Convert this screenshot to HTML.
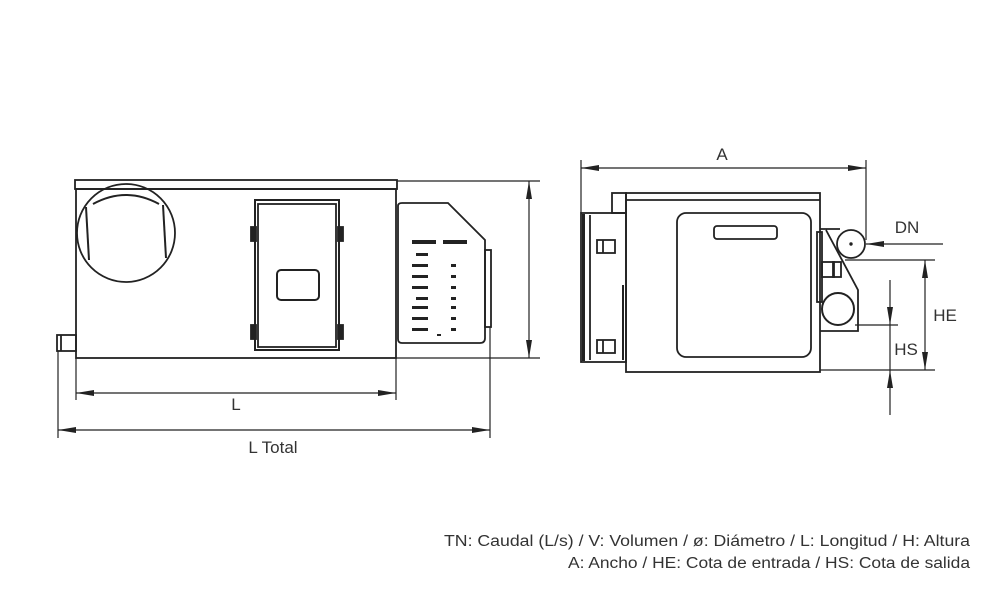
<!DOCTYPE html>
<html><head><meta charset="utf-8"><style>
html,body{margin:0;padding:0;background:#fff;width:1000px;height:600px;overflow:hidden}
text{font-family:"Liberation Sans",sans-serif}
</style></head><body>
<svg width="1000" height="600" viewBox="0 0 1000 600" xmlns="http://www.w3.org/2000/svg">
<defs>
<marker id="ar2" viewBox="0 0 18 6" refX="18" refY="3" markerWidth="18" markerHeight="6" orient="auto-start-reverse" markerUnits="userSpaceOnUse"><path d="M0,0 L18,3 L0,6 z" fill="#222"/></marker>
</defs>
<g fill="none" stroke="#222" stroke-width="1.8">
<!-- LEFT VIEW -->
<rect x="75" y="180" width="322" height="9" />
<rect x="76" y="189" width="320" height="169" />
<rect x="57" y="335" width="19" height="16" />
<line x1="61" y1="335" x2="61" y2="351"/>
<circle cx="126" cy="233" r="49"/>
<path d="M93,204 Q126,186 159,204" stroke-width="2"/>
<line x1="86" y1="207" x2="89" y2="260" stroke-width="2"/>
<line x1="163" y1="205" x2="166" y2="258" stroke-width="2"/>
<rect x="255" y="200" width="84" height="150" stroke-width="2"/>
<rect x="258" y="204" width="78" height="143"/>
<rect x="251" y="227" width="5" height="14" fill="#222"/>
<rect x="251" y="325" width="5" height="14" fill="#222"/>
<rect x="338" y="227" width="5" height="14" fill="#222"/>
<rect x="338" y="325" width="5" height="14" fill="#222"/>
<rect x="277" y="270" width="42" height="30" rx="4" stroke-width="2"/>
<path d="M398,206 Q398,203 402,203 L448,203 L485,240 L485,338 Q485,343 480,343 L402,343 Q398,343 398,339 Z"/>
<rect x="485" y="250" width="6" height="77"/>
<g stroke="none" fill="#222">
<rect x="412" y="240" width="24" height="4"/><rect x="443" y="240" width="24" height="4"/>
<rect x="416" y="253" width="12" height="3"/>
<rect x="412" y="264" width="16" height="3"/><rect x="451" y="264" width="5" height="3"/>
<rect x="412" y="275" width="16" height="3"/><rect x="451" y="275" width="5" height="3"/>
<rect x="412" y="286" width="16" height="3"/><rect x="451" y="286" width="5" height="3"/>
<rect x="416" y="297" width="12" height="3"/><rect x="451" y="297" width="5" height="3"/>
<rect x="412" y="306" width="16" height="3"/><rect x="451" y="306" width="5" height="3"/>
<rect x="412" y="317" width="16" height="3"/><rect x="451" y="317" width="5" height="3"/>
<rect x="412" y="328" width="16" height="3"/><rect x="451" y="328" width="5" height="3"/>
<rect x="437" y="334" width="4" height="2"/>
</g>
<g stroke-width="1.2">
<line x1="397" y1="181" x2="540" y2="181"/>
<line x1="396" y1="358" x2="540" y2="358"/>
<line x1="529" y1="181" x2="529" y2="358" marker-start="url(#ar2)" marker-end="url(#ar2)"/>
<line x1="76" y1="358" x2="76" y2="400"/>
<line x1="396" y1="358" x2="396" y2="400"/>
<line x1="76" y1="393" x2="396" y2="393" marker-start="url(#ar2)" marker-end="url(#ar2)"/>
<line x1="58" y1="351" x2="58" y2="438"/>
<line x1="490" y1="327" x2="490" y2="438"/>
<line x1="58" y1="430" x2="490" y2="430" marker-start="url(#ar2)" marker-end="url(#ar2)"/>
</g>
<!-- RIGHT VIEW -->
<rect x="626" y="193" width="194" height="179"/>
<line x1="626" y1="200" x2="820" y2="200"/>
<rect x="612" y="193" width="14" height="20"/>
<rect x="581" y="213" width="45" height="149"/>
<rect x="582" y="214" width="3" height="147" fill="#222" stroke="none"/>
<line x1="590" y1="215" x2="590" y2="360"/>
<rect x="597" y="240" width="18" height="13"/>
<rect x="597" y="340" width="18" height="13"/>
<line x1="603" y1="240" x2="603" y2="253"/><line x1="603" y1="340" x2="603" y2="353"/>
<line x1="623" y1="285" x2="623" y2="360" stroke-width="2"/>
<rect x="677" y="213" width="134" height="144" rx="9"/>
<rect x="714" y="226" width="63" height="13" rx="3"/>
<rect x="817" y="232" width="5" height="70"/>
<path d="M820,229 L840,229 M826,230 L858,290 L858,331 L820,331"/>
<circle cx="851" cy="244" r="14"/>
<circle cx="851" cy="244" r="0.8" fill="#222"/>
<circle cx="838" cy="309" r="16" stroke-width="2"/>
<rect x="822" y="262" width="12" height="15"/>
<rect x="833" y="262" width="8" height="15"/>
<g stroke-width="1.2">
<line x1="581" y1="160" x2="581" y2="213"/>
<line x1="866" y1="160" x2="866" y2="240"/>
<line x1="581" y1="168" x2="866" y2="168" marker-start="url(#ar2)" marker-end="url(#ar2)"/>
<line x1="943" y1="244" x2="866" y2="244" marker-end="url(#ar2)"/>
<line x1="845" y1="260" x2="935" y2="260"/>
<line x1="820" y1="370" x2="935" y2="370"/>
<line x1="925" y1="260" x2="925" y2="370" marker-start="url(#ar2)" marker-end="url(#ar2)"/>
<line x1="855" y1="325" x2="898" y2="325"/>
<line x1="890" y1="280" x2="890" y2="325" marker-end="url(#ar2)"/>
<line x1="890" y1="415" x2="890" y2="370" marker-end="url(#ar2)"/>
<line x1="890" y1="325" x2="890" y2="370"/>
</g>
</g>
<g fill="#333" font-size="17">
<text x="236" y="410" text-anchor="middle">L</text>
<text x="273" y="453" text-anchor="middle">L Total</text>
<text x="722" y="160" text-anchor="middle">A</text>
<text x="907" y="233" text-anchor="middle">DN</text>
<text x="945" y="321" text-anchor="middle">HE</text>
<text x="906" y="355" text-anchor="middle">HS</text>
</g>
<g fill="#333" font-size="15.5" text-anchor="end">
<text x="970" y="546" textLength="526" lengthAdjust="spacingAndGlyphs">TN: Caudal (L/s) / V: Volumen / ø: Diámetro / L: Longitud / H: Altura</text>
<text x="970" y="568" textLength="402" lengthAdjust="spacingAndGlyphs">A: Ancho / HE: Cota de entrada / HS: Cota de salida</text>
</g>
</svg>
</body></html>
